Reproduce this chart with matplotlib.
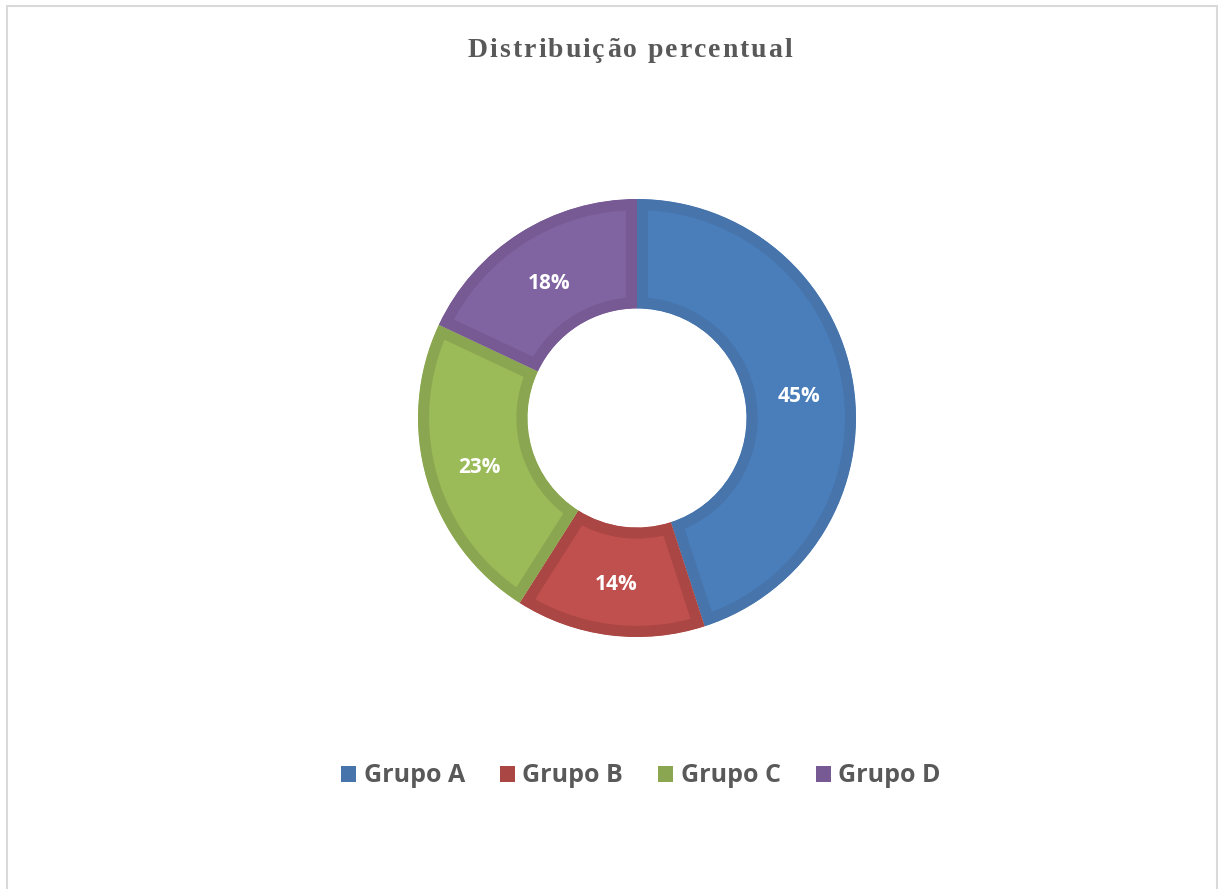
import matplotlib
matplotlib.use("Agg")
import matplotlib.pyplot as plt
from matplotlib.patches import Patch, Rectangle, Wedge
from matplotlib.transforms import offset_copy

labels = ["Grupo A", "Grupo B", "Grupo C", "Grupo D"]
values = [45, 14, 23, 18]
fill_colors = ["#4A7EBB", "#C0504D", "#9BBB59", "#8064A2"]
edge_colors = ["#4674AB", "#AA4643", "#8BA650", "#775A93"]
title = "Distribuição percentual"

W, H = 1218, 889
fig = plt.figure(figsize=(W / 100, H / 100), dpi=100)
fig.patch.set_facecolor("white")

# frame around the chart area (bottom edge falls outside the image)
fig.add_artist(Rectangle((6.5 / W, -0.05), 1210 / W, 1.05 - 6.5 / H,
                         transform=fig.transFigure, fill=False,
                         edgecolor="#D9D9D9", linewidth=1.5))

# donut: centre (637, 418) px, outer radius 219 px
cx, cy, r = 637, 418, 219
ax = fig.add_axes([(cx - r) / W, (H - cy - r) / H, 2 * r / W, 2 * r / H])
wedges, _, pcts = ax.pie(
    values, colors=fill_colors, startangle=90, counterclock=False,
    radius=1, autopct="%1.0f%%", pctdistance=0.75,
    wedgeprops=dict(width=0.5, linewidth=16),
    textprops=dict(color="white", fontsize=15, fontweight="bold",
                   family="Open Sans"),
)
for w, ec in zip(wedges, edge_colors):
    w.set_edgecolor(ec)
    # clip the thick edge to the wedge itself -> border drawn only inside
    clip = Wedge(w.center, w.r, w.theta1, w.theta2, width=w.width,
                 transform=ax.transData)
    w.set_clip_on(True)  # pie() turns clipping off
    w.set_clip_path(clip)
for t in pcts:
    t.set_transform(offset_copy(ax.transData, fig=fig, x=0, y=-4, units="dots"))
ax.set_xlim(-1, 1)
ax.set_ylim(-1, 1)
ax.axis("off")

# title with a little letter spacing
tprops = dict(family="Liberation Serif", fontweight="bold", fontsize=20,
              color="#595959")
renderer = fig.canvas.get_renderer()


def text_w(s):
    t = fig.text(0, 0, s, **tprops)
    w = t.get_window_extent(renderer).width
    t.remove()
    return w


space_w = text_w("a a") - text_w("aa")
widths = [space_w if ch == " " else text_w(ch) for ch in title]
spacing = 2.0
total = sum(widths) + spacing * (len(title) - 1)
x = 630 - total / 2
for ch, cw in zip(title, widths):
    if ch != " ":
        fig.text(x / W, 1 - 57 / H, ch, ha="left", va="baseline", **tprops)
    x += cw + spacing

handles = [Patch(facecolor=c, edgecolor="none") for c in edge_colors]
fig.legend(handles, labels, loc="center", bbox_to_anchor=(641 / W, 1 - 776 / H),
           ncol=4, frameon=False, handlelength=0.6, handleheight=0.6,
           handletextpad=0.3, columnspacing=1.4,
           prop=dict(family="Open Sans", weight="bold", size=18),
           labelcolor="#595959")

fig.savefig("out.png", dpi=100)
